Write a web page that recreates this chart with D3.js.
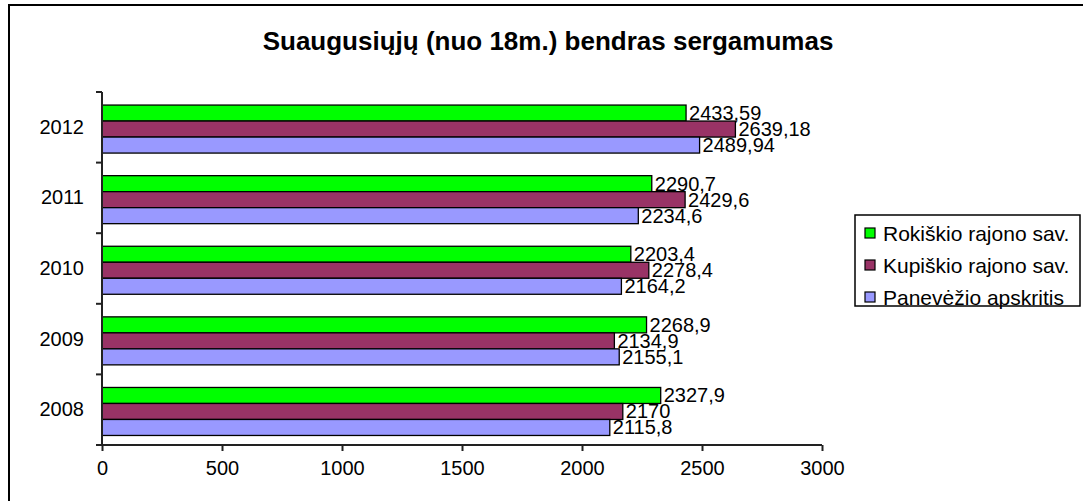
<!DOCTYPE html>
<html>
<head>
<meta charset="utf-8">
<script src="https://cdn.jsdelivr.net/npm/d3@7"></script>
<style>
  html, body { margin: 0; padding: 0; background: #fff; }
  svg { display: block; font-family: "Liberation Sans", Arial, sans-serif; }
</style>
</head>
<body>
<svg id="chart" width="1083" height="501"></svg>
<script>
// ---- data ----
const years = ["2012", "2011", "2010", "2009", "2008"];
const seriesNames = ["Rokiškio rajono sav.", "Kupiškio rajono sav.", "Panevėžio apskritis"];
const rokiskis = [2433.59, 2290.7, 2203.4, 2268.9, 2327.9];
const kupiskis = [2639.18, 2429.6, 2278.4, 2134.9, 2170];
const panevezys = [2489.94, 2234.6, 2164.2, 2155.1, 2115.8];
const valueLabels = [
  ["2433,59", "2290,7", "2203,4", "2268,9", "2327,9"],
  ["2639,18", "2429,6", "2278,4", "2134,9", "2170"],
  ["2489,94", "2234,6", "2164,2", "2155,1", "2115,8"]
];
const xTicks = [0, 500, 1000, 1500, 2000, 2500, 3000];
const colors = ["#00FF00", "#993366", "#9999FF"];
const title = "Suaugusiųjų (nuo 18m.) bendras sergamumas";

const seriesValues = [rokiskis, kupiskis, panevezys];

const svg = d3.select("#chart");

// outer border
svg.append("rect")
  .attr("x", 9).attr("y", 5).attr("width", 1090).attr("height", 520)
  .attr("fill", "none").attr("stroke", "#000").attr("stroke-width", 2);

// title
svg.append("text")
  .attr("x", 548).attr("y", 50)
  .attr("text-anchor", "middle")
  .attr("font-size", 26).attr("font-weight", "bold")
  .text(title);

const plot = { left: 102, right: 822, top: 92, bottom: 445 };

const x = d3.scaleLinear().domain([0, 3000]).range([plot.left, plot.right]);
const y = d3.scaleBand().domain(years).range([plot.top, plot.bottom]).paddingInner(0).paddingOuter(0);
const bw = y.bandwidth();
const ySub = d3.scaleBand().domain(d3.range(3)).range([bw * 0.185, bw * 0.865]).padding(0);

// bars
const g = svg.append("g");
seriesValues.forEach((vals, si) => {
  g.selectAll(null)
    .data(years.map((yr, i) => ({ yr, v: vals[i], lab: valueLabels[si][i] })))
    .enter()
    .append("rect")
    .attr("x", x(0))
    .attr("y", d => y(d.yr) + ySub(si))
    .attr("width", d => x(d.v) - x(0))
    .attr("height", ySub.bandwidth())
    .attr("fill", colors[si])
    .attr("stroke", "#000")
    .attr("stroke-width", 1.3);
});

// value labels
seriesValues.forEach((vals, si) => {
  g.selectAll(null)
    .data(years.map((yr, i) => ({ yr, v: vals[i], lab: valueLabels[si][i] })))
    .enter()
    .append("text")
    .attr("x", d => x(d.v) + 3)
    .attr("y", d => y(d.yr) + ySub(si) + ySub.bandwidth() / 2 + 7)
    .attr("font-size", 20)
    .attr("fill", "#000")
    .text(d => d.lab);
});

// x axis
const xAxis = d3.axisBottom(x).tickValues(xTicks).tickSize(6).tickSizeOuter(0).tickPadding(10)
  .tickFormat(d3.format("d"));
const xg = svg.append("g").attr("transform", `translate(0,${plot.bottom})`).call(xAxis);
xg.select(".domain").attr("stroke", "#222").attr("stroke-width", 2)
  .attr("d", `M${plot.left - 6},0H${plot.right}`);
xg.selectAll(".tick line").attr("stroke", "#222").attr("stroke-width", 2);
xg.selectAll(".tick text").attr("font-size", 20).attr("font-family", "Liberation Sans, Arial, sans-serif").attr("fill", "#000");

// y axis
const yAxis = d3.axisLeft(y).tickSize(0).tickPadding(18);
const yg = svg.append("g").attr("transform", `translate(${plot.left},0)`).call(yAxis);
yg.select(".domain").attr("stroke", "#222").attr("stroke-width", 2)
  .attr("d", `M0,${plot.top}V${plot.bottom}`);
yg.selectAll(".tick text").attr("font-size", 20).attr("font-family", "Liberation Sans, Arial, sans-serif").attr("fill", "#000");
// category boundary ticks
const boundaries = years.map(yr => y(yr)).concat([plot.bottom]);
yg.selectAll(".bnd").data(boundaries).enter().append("line")
  .attr("x1", -6).attr("x2", 0).attr("y1", d => d).attr("y2", d => d)
  .attr("stroke", "#222").attr("stroke-width", 2);

// legend
const lg = svg.append("g");
lg.append("rect").attr("x", 855).attr("y", 215).attr("width", 225).attr("height", 91)
  .attr("fill", "#fff").attr("stroke", "#000").attr("stroke-width", 1.5);
const rowY = d3.scalePoint().domain(d3.range(3)).range([233, 297]);
seriesNames.forEach((name, i) => {
  lg.append("rect").attr("x", 865).attr("y", rowY(i) - 5).attr("width", 10).attr("height", 10)
    .attr("fill", colors[i]).attr("stroke", "#000").attr("stroke-width", 1.2);
  lg.append("text").attr("x", 883).attr("y", rowY(i) + 7.5).attr("font-size", 21).text(name);
});
</script>
</body>
</html>
